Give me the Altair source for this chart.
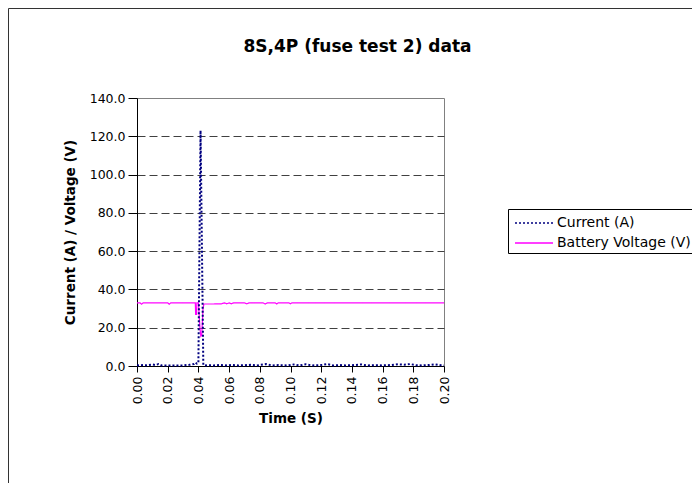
import altair as alt
import pandas as pd

# ---- data ----
cur_t = [0.000, 0.004, 0.006, 0.010, 0.012, 0.014, 0.016, 0.020, 0.030, 0.034,
         0.037, 0.038, 0.039, 0.0400, 0.0414, 0.0432, 0.045, 0.047, 0.050, 0.054,
         0.058, 0.062, 0.066, 0.070, 0.074, 0.078, 0.084, 0.088, 0.092, 0.098,
         0.102, 0.106, 0.110, 0.114, 0.120, 0.124, 0.128, 0.132, 0.136, 0.140,
         0.146, 0.150, 0.156, 0.160, 0.166, 0.170, 0.174, 0.178, 0.182, 0.186,
         0.190, 0.194, 0.198, 0.200]
cur_v = [0.3, 0.5, 0.4, 0.8, 0.5, 1.0, 0.3, 0.3, 0.3, 0.6,
         1.0, 1.8, 1.2, 1.5, 123.0, 0.5, 0.3, 0.4, 0.3, 0.6,
         0.3, 0.5, 0.3, 0.4, 0.6, 0.3, 1.0, 0.3, 0.5, 0.3,
         0.8, 0.3, 0.9, 0.3, 0.5, 1.0, 0.3, 0.5, 0.3, 0.4,
         0.8, 0.3, 0.4, 0.3, 0.5, 0.9, 0.7, 1.0, 0.4, 0.3,
         0.5, 0.9, 0.4, 0.3]

volt_t = [0.000, 0.002, 0.003, 0.004, 0.020, 0.021, 0.022, 0.0380, 0.0382, 0.0388,
          0.0390, 0.0400, 0.0410, 0.0416, 0.0422, 0.0430, 0.0436, 0.050, 0.055, 0.057,
          0.0585, 0.060, 0.0615, 0.063, 0.070, 0.0715, 0.073, 0.082, 0.0835, 0.085,
          0.090, 0.091, 0.092, 0.099, 0.100, 0.101, 0.200]
volt_v = [33.0, 33.0, 32.3, 33.0, 33.0, 32.3, 33.0, 33.0, 27.0, 27.0,
          33.0, 33.0, 20.0, 15.5, 16.0, 30.0, 32.4, 32.4, 32.5, 33.0,
          32.5, 33.0, 32.5, 33.0, 33.0, 32.5, 33.0, 33.0, 32.4, 33.0,
          33.0, 32.4, 33.0, 33.0, 32.5, 33.0, 33.0]

series_names = ["Current (A)", "Battery Voltage (V)"]
series_colors = ["#000080", "#FF00FF"]
y_ticks = [0, 20, 40, 60, 80, 100, 120, 140]
x_ticks = [0.00, 0.02, 0.04, 0.06, 0.08, 0.10, 0.12, 0.14, 0.16, 0.18, 0.20]

df = pd.concat([
    pd.DataFrame({"t": cur_t, "v": cur_v, "series": series_names[0]}),
    pd.DataFrame({"t": volt_t, "v": volt_v, "series": series_names[1]}),
])

FONT = "DejaVu Sans"

x_enc = alt.X("t:Q", title="Time (S)",
              scale=alt.Scale(domain=[0, 0.2], nice=False),
              axis=alt.Axis(values=x_ticks, format=".2f", labelAngle=270,
                            labelAlign="right", labelBaseline="middle",
                            grid=False, tickSize=6, labelPadding=4,
                            titlePadding=8))
y_enc = alt.Y("v:Q", title="Current (A) / Voltage (V)",
              scale=alt.Scale(domain=[0, 140], nice=False),
              axis=alt.Axis(values=y_ticks, format=".1f", tickSize=9,
                            labelPadding=3, titlePadding=12,
                            gridColor="#404040", gridDash=[8, 4],
                            gridOpacity={"condition": {"test": "datum.value === 0 || datum.value === 140", "value": 0}, "value": 1}))
color_enc = alt.Color("series:N",
                      scale=alt.Scale(domain=series_names, range=series_colors),
                      legend=alt.Legend(title=None, orient="none",
                                        legendX=371, legendY=111))
dash_enc = alt.StrokeDash("series:N",
                          scale=alt.Scale(domain=series_names, range=[[2, 2], [1, 0]]),
                          legend=alt.Legend(title=None, orient="none",
                                            legendX=371, legendY=111))

base = alt.Chart(df)
volt = base.transform_filter(alt.datum.series == series_names[1]).mark_line(strokeWidth=1.2).encode(
    x=x_enc, y=y_enc, color=color_enc, strokeDash=dash_enc)
cur = base.transform_filter(alt.datum.series == series_names[0]).mark_line(strokeWidth=2).encode(
    x=x_enc, y=y_enc, color=color_enc, strokeDash=dash_enc)

frame = alt.Chart(pd.DataFrame({"a": [0]})).mark_rect(
    fill=None, stroke="#333333", strokeWidth=1).encode(
    x=alt.value(-128.5), x2=alt.value(700), y=alt.value(-89.5), y2=alt.value(600))

chart = alt.layer(frame, volt, cur).properties(
    width=307, height=268,
    background="white",
    autosize=alt.AutoSizeParams(type="none"),
    padding={"left": 129, "top": 90, "right": 248, "bottom": 117},
    title=alt.TitleParams("8S,4P (fuse test 2) data", anchor="middle", frame="group",
                          dx=67, offset=0, dy=61, baseline="alphabetic",
                          font=FONT, fontSize=17, fontWeight="bold",
                          color="black"),
).configure_view(stroke="#808080", strokeWidth=1).configure_axis(
    labelFont=FONT, labelFontSize=12.5, labelColor="black",
    titleFont=FONT, titleFontSize=13.5, titleFontWeight="bold", titleColor="black",
    domainColor="black", tickColor="black",
).configure_legend(
    labelFont=FONT, labelFontSize=14, labelColor="black",
    strokeColor="black", fillColor="white", padding=3,
    symbolType="M -0.7 0 L 3.1 0", symbolSize=400, symbolStrokeWidth=1.5,
    labelOffset=24, rowPadding=2,
)

chart.save("out.html", embed_options={"renderer": "svg", "actions": False})
